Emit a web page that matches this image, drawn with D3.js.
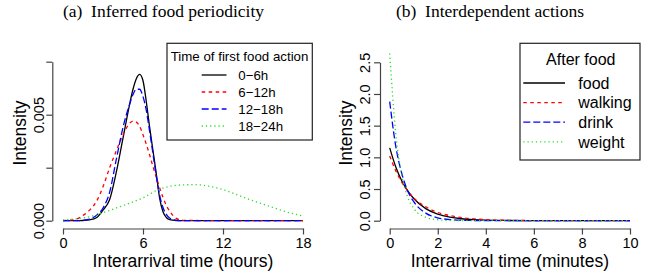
<!DOCTYPE html>
<html>
<head>
<meta charset="utf-8">
<script src="https://cdn.jsdelivr.net/npm/d3@7"></script>
<style>
  body { margin: 0; background: #fff; }
  text { font-family: "Liberation Sans", Arial, sans-serif; }
  .ttl { font-family: "Liberation Serif", "Times New Roman", serif; font-size: 17.5px; }
  .axis path, .axis line { stroke: #444; stroke-width: 1.2; }
  .axis text { font-size: 14.5px; fill: #000; }
</style>
</head>
<body>
<svg id="fig" width="651" height="275"></svg>
<script>

// ---- (a) inferred food periodicity, intensity in units of 1e-3
var hours = [0,1,1.5,2,2.5,3,3.5,4,4.5,5,5.25,5.5,5.75,6,6.25,6.5,6.75,7,7.25,7.5,7.75,8,8.5,9,12,18];
var first0_6   = [0,0,0.01,0.04,0.14,0.5,1.0,2.3,3.9,5.5,6.2,6.7,6.9,6.6,5.6,4.4,3.3,2.2,1.05,0.42,0.15,0.05,0.01,0,0,0];
var first6_12  = [0,0.08,0.25,0.5,0.9,1.6,2.5,3.3,4.05,4.6,4.7,4.65,4.45,4.05,3.6,3.1,2.55,2.05,1.55,1.1,0.72,0.45,0.11,0.02,0,0];
var first12_18 = [0,0,0.02,0.08,0.25,0.6,1.35,2.9,4.4,5.5,5.95,6.2,6.2,5.85,5.2,4.2,3.15,2.1,1.2,0.62,0.3,0.13,0.02,0,0,0];
var hoursGreen = [0,1,2,3,4,5,6,7,8,9,10,11,12,13,14,15,16,17,18];
var first18_24 = [0.04,0.09,0.19,0.38,0.6,0.83,1.08,1.42,1.62,1.69,1.7,1.62,1.47,1.24,1.0,0.78,0.57,0.37,0.22];

var xTicksA = [0, 6, 12, 18];
var yTicksA = [0, 2.5, 5, 7.5];
var yLabelsA = ["0.000", "", "0.005", ""];
var legendA = ["0\u22126h", "6\u221212h", "12\u221218h", "18\u221224h"];

// ---- (b) interdependent actions
var minutes = [0,0.25,0.5,0.75,1,1.5,2,2.5,3,3.5,4,5,6,7,8,9,10];
var afterFood    = [1.15,0.85,0.63,0.47,0.35,0.19,0.105,0.057,0.031,0.017,0.009,0.003,0.001,0,0,0,0];
var afterWalking = [1.02,0.79,0.61,0.47,0.36,0.22,0.13,0.08,0.048,0.03,0.017,0.006,0.002,0.001,0,0,0];
var afterDrink   = [1.88,1.18,0.75,0.47,0.30,0.12,0.046,0.018,0.007,0.003,0.001,0,0,0,0,0,0];
var afterWeight  = [2.64,1.38,0.72,0.37,0.195,0.053,0.015,0.004,0.001,0,0,0,0,0,0,0,0];

var xTicksB = [0, 2, 4, 6, 8, 10];
var yTicksB = [0, 0.5, 1, 1.5, 2, 2.5];
var legendB = ["food", "walking", "drink", "weight"];

var colors = ["#000000", "#ff0000", "#0000ff", "#22dd22"];
var dashes = [null, "3.5,3.5", "7,3", "1.2,3"];

var svg = d3.select("#fig");

function panel(opt) {
  var g = svg.append("g");
  var x = d3.scaleLinear().domain(opt.xDomain).range(opt.xRange);
  var y = d3.scaleLinear().domain(opt.yDomain).range(opt.yRange);

  g.append("text").attr("class", "ttl")
    .attr("x", opt.titleX).attr("y", 16.5).attr("text-anchor", "middle")
    .text(opt.title);

  g.append("g").attr("class", "axis")
    .attr("transform", "translate(0," + opt.xAxisY + ")")
    .call(d3.axisBottom(x).tickValues(opt.xTicks).tickSize(6).tickSizeOuter(0).tickPadding(3));

  var ya = g.append("g").attr("class", "axis")
    .attr("transform", "translate(" + opt.yAxisX + ",0)")
    .call(d3.axisLeft(y).tickValues(opt.yTicks).tickSize(6).tickSizeOuter(0)
      .tickFormat(function(d, i) { return opt.yLabels[i]; }));
  ya.selectAll("text")
    .attr("transform", "rotate(-90)")
    .attr("x", 0).attr("y", -opt.yLabOff).attr("dy", 0)
    .attr("text-anchor", "middle");

  g.append("text").attr("x", (opt.xRange[0] + opt.xRange[1]) / 2).attr("y", 266.5)
    .attr("text-anchor", "middle").attr("font-size", 17.5)
    .text(opt.xTitle);
  g.append("text")
    .attr("transform", "translate(" + opt.yTitleX + ",133) rotate(-90)")
    .attr("text-anchor", "middle").attr("font-size", 17.5)
    .text("Intensity");

  var line = d3.line()
    .x(function(d) { return x(d[0]); })
    .y(function(d) { return y(d[1]); })
    .curve(d3.curveMonotoneX);

  opt.series.forEach(function(s, i) {
    g.append("path")
      .datum(d3.zip(s.xs, s.ys))
      .attr("d", line)
      .attr("fill", "none")
      .attr("stroke", colors[i])
      .attr("stroke-width", 1.3)
      .attr("stroke-dasharray", dashes[i]);
  });

  // legend
  var L = opt.legend;
  g.append("rect").attr("x", L.x0).attr("y", L.y0)
    .attr("width", L.x1 - L.x0).attr("height", L.y1 - L.y0)
    .attr("fill", "#fff").attr("stroke", "#222").attr("stroke-width", 1.2);
  g.append("text").attr("x", L.titleX).attr("y", L.titleY)
    .attr("text-anchor", L.titleAnchor).attr("font-size", L.fs)
    .text(L.title);
  L.labels.forEach(function(lab, i) {
    var ly = L.rowY + i * L.step;
    g.append("line").attr("x1", L.lx0).attr("x2", L.lx1).attr("y1", ly).attr("y2", ly)
      .attr("stroke", colors[i]).attr("stroke-width", 1.3)
      .attr("stroke-dasharray", dashes[i]);
    g.append("text").attr("x", L.tx).attr("y", ly + L.fs * 0.36)
      .attr("font-size", L.fs).text(lab);
  });
}

panel({
  title: "(a)\u2002Inferred food periodicity", titleX: 163.5,
  xDomain: [0, 18], xRange: [63, 303],
  yDomain: [0, 7.5], yRange: [220.7, 61.7],
  xAxisY: 228.5, yAxisX: 52.3, yLabOff: 8.5, yTitleX: 25.5,
  xTicks: xTicksA, yTicks: yTicksA, yLabels: yLabelsA,
  xTitle: "Interarrival time (hours)",
  series: [
    {xs: hours, ys: first0_6},
    {xs: hours, ys: first6_12},
    {xs: hours, ys: first12_18},
    {xs: hoursGreen, ys: first18_24}
  ],
  legend: {x0: 167, x1: 312.3, y0: 43.3, y1: 140, fs: 13.3,
    title: "Time of first food action", titleX: 170.7, titleY: 60.5, titleAnchor: "start",
    labels: legendA, rowY: 75, step: 17, lx0: 201.7, lx1: 226.5, tx: 238.3}
});

panel({
  title: "(b)\u2002Interdependent actions", titleX: 490,
  xDomain: [0, 10], xRange: [389.7, 630],
  yDomain: [0, 2.5], yRange: [220.7, 62.3],
  xAxisY: 228.5, yAxisX: 380, yLabOff: 10.5, yTitleX: 352,
  xTicks: xTicksB, yTicks: yTicksB, yLabels: yTicksB.map(d3.format(".1f")),
  xTitle: "Interarrival time (minutes)",
  series: [
    {xs: minutes, ys: afterFood},
    {xs: minutes, ys: afterWalking},
    {xs: minutes, ys: afterDrink},
    {xs: minutes, ys: afterWeight}
  ],
  legend: {x0: 520, x1: 640, y0: 43.3, y1: 160, fs: 16,
    title: "After food", titleX: 580.8, titleY: 65, titleAnchor: "middle",
    labels: legendB, rowY: 83, step: 19.6, lx0: 523.3, lx1: 565, tx: 578.3}
});

</script>
</body>
</html>
